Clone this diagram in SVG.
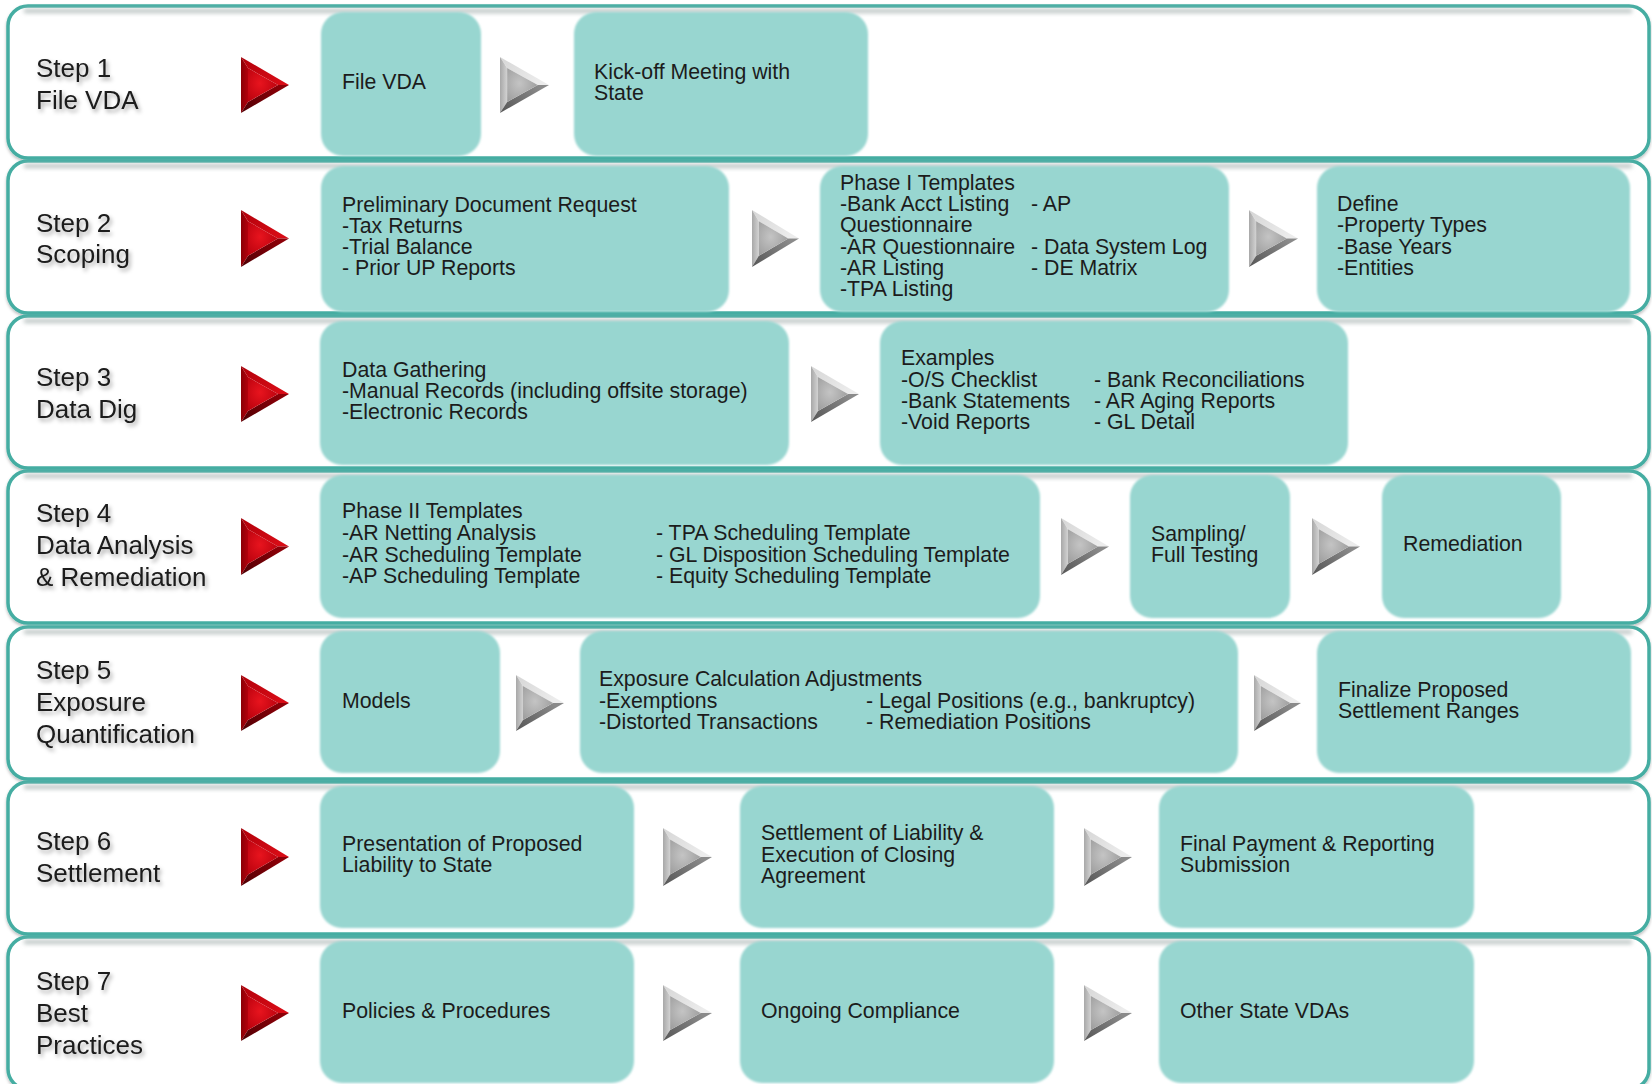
<svg xmlns="http://www.w3.org/2000/svg" xmlns:xlink="http://www.w3.org/1999/xlink" width="1652" height="1084" viewBox="0 0 1652 1084">
<defs>
  <style>
    .band{fill:#ffffff;stroke:#45ada2;stroke-width:3.5}
    .bandsh{fill:none;stroke:#b9c2c1;stroke-width:4;filter:url(#blur2)}
    .box{fill:#98d6d0;filter:url(#soft)}
    .lbl{font-family:"Liberation Sans",Arial,sans-serif;font-size:26px;fill:#1a1a1a;filter:url(#tshadow)}
    .txt{font-family:"Liberation Sans",Arial,sans-serif;font-size:21.3px;fill:#1c1c1c}
  </style>
  <filter id="soft" x="-5%" y="-5%" width="110%" height="110%"><feGaussianBlur stdDeviation="1.3"/></filter>
  <filter id="blur2" x="-5%" y="-50%" width="110%" height="200%"><feGaussianBlur stdDeviation="2"/></filter>
  <filter id="tshadow" x="-10%" y="-30%" width="130%" height="180%"><feDropShadow dx="2" dy="3" stdDeviation="2" flood-color="#000" flood-opacity="0.35"/></filter>
  <filter id="bshadow" x="-2%" y="-10%" width="104%" height="125%"><feDropShadow dx="0" dy="2" stdDeviation="1.5" flood-color="#000" flood-opacity="0.25"/></filter>
  <radialGradient id="rC" cx="0.4" cy="0.45" r="0.7"><stop offset="0" stop-color="#e8141e"/><stop offset="1" stop-color="#b5000c"/></radialGradient>
  <linearGradient id="rT" x1="0" y1="0" x2="1" y2="0.6"><stop offset="0" stop-color="#b0000a"/><stop offset="1" stop-color="#d80c16"/></linearGradient>
  <linearGradient id="rL" x1="0" y1="0" x2="1" y2="0"><stop offset="0" stop-color="#8a0006"/><stop offset="1" stop-color="#b3000b"/></linearGradient>
  <linearGradient id="rB" x1="0" y1="1" x2="1" y2="0.4"><stop offset="0" stop-color="#4e0004"/><stop offset="1" stop-color="#8c0008"/></linearGradient>
  <radialGradient id="gC" cx="0.4" cy="0.45" r="0.7"><stop offset="0" stop-color="#c4c4c4"/><stop offset="1" stop-color="#9a9a9a"/></radialGradient>
  <linearGradient id="gT" x1="0" y1="0" x2="1" y2="0.6"><stop offset="0" stop-color="#d6d6d6"/><stop offset="1" stop-color="#ececec"/></linearGradient>
  <linearGradient id="gL" x1="0" y1="0" x2="1" y2="0"><stop offset="0" stop-color="#a8a8a8"/><stop offset="1" stop-color="#d2d2d2"/></linearGradient>
  <linearGradient id="gB" x1="0" y1="1" x2="1" y2="0.4"><stop offset="0" stop-color="#555555"/><stop offset="1" stop-color="#8a8a8a"/></linearGradient>
  <symbol id="redArrow" viewBox="0 0 48 56" preserveAspectRatio="none">
    <path d="M0 0 L48 28 L37 28 L7 11 Z" fill="url(#rT)"/>
    <path d="M0 0 L7 11 L7 45 L0 56 Z" fill="url(#rL)"/>
    <path d="M0 56 L7 45 L37 28 L48 28 Z" fill="url(#rB)"/>
    <path d="M7 11 L37 28 L7 45 Z" fill="url(#rC)"/>
  </symbol>
  <symbol id="grayArrow" viewBox="0 0 48 56" preserveAspectRatio="none">
    <path d="M0 0 L48 28 L37 28 L7 11 Z" fill="url(#gT)"/>
    <path d="M0 0 L7 11 L7 45 L0 56 Z" fill="url(#gL)"/>
    <path d="M0 56 L7 45 L37 28 L48 28 Z" fill="url(#gB)"/>
    <path d="M7 11 L37 28 L7 45 Z" fill="url(#gC)"/>
  </symbol>
</defs>

<rect x="0" y="0" width="1652" height="1084" fill="#ffffff"/>

<g id="rows">
  <g filter="url(#bshadow)">
    <rect class="band" x="8" y="6" width="1641" height="152" rx="20"/>
    <rect class="band" x="8" y="161" width="1641" height="152" rx="20"/>
    <rect class="band" x="8" y="316" width="1641" height="152" rx="20"/>
    <rect class="band" x="8" y="471" width="1641" height="152" rx="20"/>
    <rect class="band" x="8" y="627" width="1641" height="152" rx="20"/>
    <rect class="band" x="8" y="782" width="1641" height="152" rx="20"/>
    <rect class="band" x="8" y="937" width="1641" height="152" rx="20"/>
  </g>
  <path class="bandsh" d="M24 11 H1632 M24 166 H1632 M24 321 H1632 M24 476 H1632 M24 632 H1632 M24 787 H1632 M24 942 H1632"/>
</g>

<g id="step1">
  <text class="lbl" x="36" y="77">Step 1</text>
  <text class="lbl" x="36" y="109">File VDA</text>
</g>
<g id="step2">
  <text class="lbl" x="36" y="232">Step 2</text>
  <text class="lbl" x="36" y="263">Scoping</text>
</g>
<g id="step3">
  <text class="lbl" x="36" y="386">Step 3</text>
  <text class="lbl" x="36" y="418">Data Dig</text>
</g>
<g id="step4">
  <text class="lbl" x="36" y="522">Step 4</text>
  <text class="lbl" x="36" y="554">Data Analysis</text>
  <text class="lbl" x="36" y="586">&amp; Remediation</text>
</g>
<g id="step5">
  <text class="lbl" x="36" y="679">Step 5</text>
  <text class="lbl" x="36" y="711">Exposure</text>
  <text class="lbl" x="36" y="743">Quantification</text>
</g>
<g id="step6">
  <text class="lbl" x="36" y="850">Step 6</text>
  <text class="lbl" x="36" y="882">Settlement</text>
</g>
<g id="step7">
  <text class="lbl" x="36" y="990">Step 7</text>
  <text class="lbl" x="36" y="1022">Best</text>
  <text class="lbl" x="36" y="1054">Practices</text>
</g>

<!-- Row 1 -->
<g id="file-vda">
  <rect class="box" x="321" y="12" width="160" height="144" rx="22"/>
  <text class="txt" x="342" y="89">File VDA</text>
</g>
<g id="kickoff">
  <rect class="box" x="574" y="12" width="294" height="144" rx="22"/>
  <text class="txt" x="594" y="79">Kick-off Meeting with</text>
  <text class="txt" x="594" y="100">State</text>
</g>

<!-- Row 2 -->
<g id="prelim-request">
  <rect class="box" x="321" y="166" width="408" height="146" rx="22"/>
  <text class="txt" x="342" y="212">Preliminary Document Request</text>
  <text class="txt" x="342" y="233">-Tax Returns</text>
  <text class="txt" x="342" y="254">-Trial Balance</text>
  <text class="txt" x="342" y="275">- Prior UP Reports</text>
</g>
<g id="phase1-templates">
  <rect class="box" x="820" y="166" width="409" height="146" rx="22"/>
  <text class="txt" x="840" y="190">Phase I Templates</text>
  <text class="txt" x="840" y="211">-Bank Acct Listing</text>
  <text class="txt" x="1031" y="211">- AP</text>
  <text class="txt" x="840" y="232">Questionnaire</text>
  <text class="txt" x="840" y="254">-AR Questionnaire</text>
  <text class="txt" x="1031" y="254">- Data System Log</text>
  <text class="txt" x="840" y="275">-AR Listing</text>
  <text class="txt" x="1031" y="275">- DE Matrix</text>
  <text class="txt" x="840" y="296">-TPA Listing</text>
</g>
<g id="define">
  <rect class="box" x="1317" y="166" width="313" height="146" rx="22"/>
  <text class="txt" x="1337" y="211">Define</text>
  <text class="txt" x="1337" y="232">-Property Types</text>
  <text class="txt" x="1337" y="254">-Base Years</text>
  <text class="txt" x="1337" y="275">-Entities</text>
</g>

<!-- Row 3 -->
<g id="data-gathering">
  <rect class="box" x="320" y="321" width="469" height="144" rx="22"/>
  <text class="txt" x="342" y="377">Data Gathering</text>
  <text class="txt" x="342" y="398">-Manual Records (including offsite storage)</text>
  <text class="txt" x="342" y="419">-Electronic Records</text>
</g>
<g id="examples">
  <rect class="box" x="880" y="321" width="468" height="144" rx="22"/>
  <text class="txt" x="901" y="365">Examples</text>
  <text class="txt" x="901" y="387">-O/S Checklist</text>
  <text class="txt" x="1094" y="387">- Bank Reconciliations</text>
  <text class="txt" x="901" y="408">-Bank Statements</text>
  <text class="txt" x="1094" y="408">- AR Aging Reports</text>
  <text class="txt" x="901" y="429">-Void Reports</text>
  <text class="txt" x="1094" y="429">- GL Detail</text>
</g>

<!-- Row 4 -->
<g id="phase2-templates">
  <rect class="box" x="320" y="475" width="720" height="143" rx="22"/>
  <text class="txt" x="342" y="518">Phase II Templates</text>
  <text class="txt" x="342" y="540">-AR Netting Analysis</text>
  <text class="txt" x="342" y="562">-AR Scheduling Template</text>
  <text class="txt" x="342" y="583">-AP Scheduling Template</text>
  <text class="txt" x="656" y="540">- TPA Scheduling Template</text>
  <text class="txt" x="656" y="562">- GL Disposition Scheduling Template</text>
  <text class="txt" x="656" y="583">- Equity Scheduling Template</text>
</g>
<g id="sampling">
  <rect class="box" x="1130" y="475" width="160" height="143" rx="22"/>
  <text class="txt" x="1151" y="541">Sampling/</text>
  <text class="txt" x="1151" y="562">Full Testing</text>
</g>
<g id="remediation">
  <rect class="box" x="1382" y="475" width="179" height="143" rx="22"/>
  <text class="txt" x="1403" y="551">Remediation</text>
</g>

<!-- Row 5 -->
<g id="models">
  <rect class="box" x="320" y="631" width="180" height="142" rx="22"/>
  <text class="txt" x="342" y="708">Models</text>
</g>
<g id="exposure-calc">
  <rect class="box" x="580" y="631" width="658" height="142" rx="22"/>
  <text class="txt" x="599" y="686">Exposure Calculation Adjustments</text>
  <text class="txt" x="599" y="708">-Exemptions</text>
  <text class="txt" x="599" y="729">-Distorted Transactions</text>
  <text class="txt" x="866" y="708">- Legal Positions (e.g., bankruptcy)</text>
  <text class="txt" x="866" y="729">- Remediation Positions</text>
</g>
<g id="finalize">
  <rect class="box" x="1317" y="631" width="314" height="142" rx="22"/>
  <text class="txt" x="1338" y="697">Finalize Proposed</text>
  <text class="txt" x="1338" y="718">Settlement Ranges</text>
</g>

<!-- Row 6 -->
<g id="presentation">
  <rect class="box" x="320" y="786" width="314" height="142" rx="22"/>
  <text class="txt" x="342" y="851">Presentation of Proposed</text>
  <text class="txt" x="342" y="872">Liability to State</text>
</g>
<g id="settlement-liability">
  <rect class="box" x="740" y="786" width="314" height="142" rx="22"/>
  <text class="txt" x="761" y="840">Settlement of Liability &amp;</text>
  <text class="txt" x="761" y="862">Execution of Closing</text>
  <text class="txt" x="761" y="883">Agreement</text>
</g>
<g id="final-payment">
  <rect class="box" x="1159" y="786" width="315" height="142" rx="22"/>
  <text class="txt" x="1180" y="851">Final Payment &amp; Reporting</text>
  <text class="txt" x="1180" y="872">Submission</text>
</g>

<!-- Row 7 -->
<g id="policies">
  <rect class="box" x="320" y="941" width="314" height="142" rx="22"/>
  <text class="txt" x="342" y="1018">Policies &amp; Procedures</text>
</g>
<g id="ongoing">
  <rect class="box" x="740" y="941" width="314" height="142" rx="22"/>
  <text class="txt" x="761" y="1018">Ongoing Compliance</text>
</g>
<g id="other-state">
  <rect class="box" x="1159" y="941" width="315" height="142" rx="22"/>
  <text class="txt" x="1180" y="1018">Other State VDAs</text>
</g>

<g id="connectors">
  <use href="#redArrow" x="241" y="57" width="48" height="56"/>
  <use href="#redArrow" x="241" y="210" width="48" height="57"/>
  <use href="#redArrow" x="241" y="366" width="48" height="56"/>
  <use href="#redArrow" x="241" y="518" width="48" height="57"/>
  <use href="#redArrow" x="241" y="675" width="48" height="56"/>
  <use href="#redArrow" x="241" y="828" width="48" height="58"/>
  <use href="#redArrow" x="241" y="985" width="48" height="56"/>

  <use href="#grayArrow" x="500" y="57" width="49" height="56"/>
  <use href="#grayArrow" x="752" y="210" width="47" height="57"/>
  <use href="#grayArrow" x="1249" y="210" width="49" height="57"/>
  <use href="#grayArrow" x="811" y="366" width="48" height="56"/>
  <use href="#grayArrow" x="1061" y="518" width="48" height="57"/>
  <use href="#grayArrow" x="1312" y="518" width="48" height="57"/>
  <use href="#grayArrow" x="516" y="675" width="48" height="56"/>
  <use href="#grayArrow" x="1254" y="675" width="47" height="56"/>
  <use href="#grayArrow" x="663" y="828" width="49" height="58"/>
  <use href="#grayArrow" x="1084" y="828" width="48" height="58"/>
  <use href="#grayArrow" x="663" y="985" width="49" height="56"/>
  <use href="#grayArrow" x="1084" y="985" width="48" height="56"/>
</g>
</svg>
